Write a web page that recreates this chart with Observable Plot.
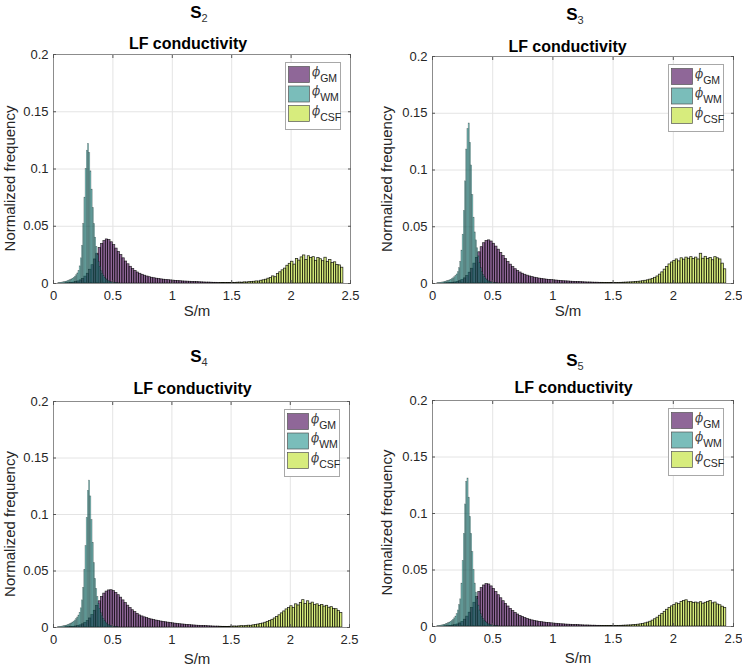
<!DOCTYPE html>
<html><head><meta charset="utf-8">
<script src="https://cdn.jsdelivr.net/npm/d3@7"></script>
<script src="https://cdn.jsdelivr.net/npm/@observablehq/plot@0.6"></script>
<style>
body{margin:0;background:#fff;}
#root{position:relative;width:742px;height:667px;overflow:hidden;background:#fff;}
</style></head><body><div id="root"></div>
<script>
// ---------- data ----------
const xTicks = [0, 0.5, 1, 1.5, 2, 2.5];
const yTicks = [0, 0.05, 0.1, 0.15, 0.2];
const subjects = ["2", "3", "4", "5"];
const tissues = ["GM", "WM", "CSF"];
const chartTitle = "LF conductivity";
const xLabel = "S/m";
const yLabel = "Normalized frequency";
const tissueColors = {GM: "#440154", WM: "#21918c", CSF: "#bddf26"};
// histogram bins: first left edge and bin width per tissue
const binStart = {WM: 0.04, GM: 0.10, CSF: 1.40};
const binWidth = {WM: 0.01, GM: 0.02, CSF: 0.02};

const S2_WM = [0.0003,0.0005,0.0006,0.0008,0.001,0.0012,0.0015,0.0018,0.0022,0.0026,0.003,0.0036,0.0042,0.005,0.006,0.0072,0.0088,0.011,0.015,0.022,0.033,0.052,0.075,0.1,0.116,0.122,0.114,0.098,0.082,0.066,0.052,0.04,0.032,0.025,0.019,0.0145,0.011,0.0085,0.0065,0.005,0.0038,0.0029,0.0022,0.0017,0.0013,0.001,0.0008,0.0006,0.0005,0.0004,0.0003];
const S2_GM = [0.0002,0.0003,0.0005,0.0008,0.0012,0.0018,0.0027,0.004,0.006,0.0085,0.012,0.016,0.021,0.026,0.031,0.0345,0.037,0.0385,0.038,0.036,0.0335,0.0305,0.0275,0.0248,0.022,0.0192,0.0168,0.0146,0.0127,0.011,0.0096,0.0085,0.0076,0.0068,0.0061,0.0055,0.005,0.0046,0.0042,0.0039,0.0036,0.0033,0.0031,0.0029,0.0027,0.0025,0.0023,0.0021,0.002,0.0018,0.0017,0.0016,0.0015,0.0014,0.0013,0.0012,0.0011,0.001,0.0009,0.0008,0.0008,0.0007,0.0006,0.0006,0.0005,0.0005,0.0004,0.0004,0.0003,0.0003];
const S2_CSF = [0.0003,0.0004,0.0003,0.0005,0.0004,0.0006,0.0005,0.0007,0.0008,0.0007,0.001,0.0009,0.0012,0.0013,0.0015,0.0018,0.0017,0.0024,0.0028,0.0033,0.0042,0.0048,0.0062,0.0055,0.0082,0.0098,0.0115,0.013,0.0155,0.0172,0.019,0.0165,0.0215,0.02,0.0228,0.0245,0.0205,0.0238,0.0222,0.023,0.0198,0.0222,0.0212,0.0195,0.0225,0.0188,0.0205,0.0178,0.0185,0.0162,0.0158,0.0138];

const S3_WM = [0.0003,0.0004,0.0005,0.0007,0.0009,0.0011,0.0014,0.0017,0.002,0.0024,0.0028,0.0033,0.0039,0.0046,0.0055,0.0066,0.008,0.01,0.0135,0.019,0.029,0.043,0.064,0.09,0.118,0.136,0.141,0.124,0.104,0.078,0.058,0.045,0.038,0.031,0.024,0.018,0.0135,0.01,0.0075,0.0056,0.0042,0.0031,0.0023,0.0017,0.0013,0.001,0.0007,0.0005,0.0004,0.0003,0.0002];
const S3_GM = [0.0002,0.0003,0.0004,0.0006,0.0009,0.0013,0.002,0.003,0.0045,0.0066,0.0095,0.013,0.0175,0.0225,0.0275,0.032,0.0355,0.0375,0.038,0.037,0.035,0.0325,0.0298,0.027,0.0243,0.0216,0.019,0.0166,0.0145,0.0126,0.011,0.0097,0.0086,0.0077,0.0069,0.0062,0.0056,0.0051,0.0047,0.0043,0.004,0.0037,0.0034,0.0032,0.003,0.0028,0.0026,0.0024,0.0022,0.002,0.0019,0.0018,0.0016,0.0015,0.0014,0.0013,0.0012,0.0011,0.001,0.0009,0.0009,0.0008,0.0007,0.0007,0.0006,0.0006,0.0005,0.0005,0.0004,0.0004];
const S3_CSF = [0.0002,0.0002,0.0003,0.0003,0.0004,0.0004,0.0005,0.0005,0.0006,0.0007,0.0008,0.0009,0.001,0.0011,0.0013,0.0015,0.0017,0.002,0.0024,0.0028,0.0034,0.0041,0.005,0.0062,0.0078,0.0098,0.0122,0.0145,0.0168,0.0185,0.0198,0.0212,0.0195,0.0222,0.021,0.0228,0.0218,0.0232,0.0215,0.0228,0.0212,0.0262,0.0218,0.0235,0.0215,0.0225,0.0205,0.0232,0.0222,0.0212,0.0175,0.0125];

const S4_WM = [0.0003,0.0004,0.0006,0.0008,0.001,0.0012,0.0015,0.0018,0.0022,0.0026,0.0031,0.0037,0.0044,0.0052,0.0062,0.0074,0.0088,0.0106,0.013,0.017,0.024,0.035,0.051,0.072,0.097,0.121,0.13,0.116,0.095,0.075,0.057,0.043,0.034,0.027,0.021,0.0165,0.0128,0.0099,0.0076,0.0058,0.0044,0.0033,0.0025,0.0019,0.0014,0.0011,0.0008,0.0006,0.0005,0.0004,0.0003];
const S4_GM = [0.0002,0.0003,0.0004,0.0006,0.0009,0.0013,0.0019,0.0028,0.004,0.0057,0.008,0.011,0.0148,0.019,0.0232,0.027,0.03,0.0318,0.0328,0.033,0.0322,0.0306,0.0286,0.0264,0.024,0.0216,0.0193,0.0172,0.0153,0.0136,0.0121,0.0107,0.0098,0.009,0.0083,0.0077,0.0071,0.0066,0.0061,0.0057,0.0053,0.0049,0.0046,0.0043,0.004,0.0037,0.0034,0.0031,0.0029,0.0027,0.0025,0.0023,0.0021,0.0019,0.0018,0.0016,0.0015,0.0014,0.0013,0.0012,0.0011,0.001,0.0009,0.0008,0.0008,0.0007,0.0006,0.0006,0.0005,0.0005];
const S4_CSF = [0.0003,0.0004,0.0004,0.0005,0.0006,0.0008,0.0009,0.0008,0.001,0.0012,0.0011,0.0014,0.0016,0.0015,0.0019,0.0022,0.0026,0.003,0.0035,0.0042,0.005,0.0058,0.0068,0.008,0.0093,0.0108,0.0125,0.0142,0.016,0.0172,0.0188,0.0172,0.0205,0.0195,0.0218,0.0242,0.0208,0.0232,0.021,0.022,0.0198,0.0205,0.019,0.02,0.0185,0.0192,0.0175,0.018,0.0165,0.0162,0.0145,0.0128];

const S5_WM = [0.0003,0.0004,0.0006,0.0008,0.001,0.0013,0.0016,0.002,0.0024,0.0029,0.0035,0.0042,0.005,0.006,0.0072,0.0088,0.011,0.0142,0.019,0.024,0.038,0.058,0.082,0.108,0.128,0.131,0.114,0.097,0.082,0.066,0.05,0.038,0.03,0.024,0.0185,0.0142,0.011,0.0085,0.0065,0.005,0.0038,0.0029,0.0022,0.0017,0.0013,0.001,0.0008,0.0006,0.0005,0.0004,0.0003];
const S5_GM = [0.0002,0.0003,0.0005,0.0008,0.0012,0.0018,0.0027,0.004,0.006,0.0087,0.0122,0.0163,0.021,0.026,0.0305,0.034,0.0363,0.0375,0.0372,0.0355,0.0332,0.0305,0.0277,0.025,0.0224,0.02,0.0177,0.0156,0.0137,0.012,0.0106,0.0094,0.0084,0.0075,0.0067,0.006,0.0054,0.0049,0.0045,0.0041,0.0038,0.0035,0.0032,0.003,0.0028,0.0026,0.0024,0.0022,0.002,0.0019,0.0017,0.0016,0.0015,0.0014,0.0013,0.0012,0.0011,0.001,0.0009,0.0009,0.0008,0.0007,0.0007,0.0006,0.0006,0.0005,0.0005,0.0004,0.0004,0.0003];
const S5_CSF = [0.0002,0.0002,0.0003,0.0003,0.0004,0.0004,0.0005,0.0005,0.0006,0.0007,0.0008,0.0009,0.001,0.0012,0.0014,0.0016,0.0019,0.0023,0.0028,0.0034,0.0042,0.0052,0.0064,0.0078,0.0095,0.0112,0.013,0.0148,0.0165,0.0178,0.019,0.0205,0.0198,0.0218,0.0225,0.0232,0.0215,0.0218,0.0208,0.0212,0.0205,0.0215,0.0202,0.021,0.0218,0.0225,0.0205,0.0212,0.0195,0.0188,0.0175,0.0165];

const seriesBySubject = {
  "2": {GM: S2_GM, WM: S2_WM, CSF: S2_CSF},
  "3": {GM: S3_GM, WM: S3_WM, CSF: S3_CSF},
  "4": {GM: S4_GM, WM: S4_WM, CSF: S4_CSF},
  "5": {GM: S5_GM, WM: S5_WM, CSF: S5_CSF}
};

// ---------- layout (positions / styles only) ----------
const layout = [
  {left: 0,   top: 0,   w: 371, h: 320, mL: 53, mR: 21, mT: 54, mB: 37, sT: [199, 18],  lf: [188, 49],   yl: [15, 178.5], xl: [197, 316]},
  {left: 371, top: 0,   w: 371, h: 320, mL: 61, mR: 9,  mT: 56, mB: 37, sT: [204, 20],  lf: [196.5, 52], yl: [21, 179],   xl: [197, 316]},
  {left: 0,   top: 320, w: 371, h: 347, mL: 53, mR: 22, mT: 81, mB: 40, sT: [199, 42],  lf: [192.5, 74], yl: [15, 204],   xl: [197, 344]},
  {left: 371, top: 320, w: 371, h: 347, mL: 61, mR: 9,  mT: 80, mB: 41, sT: [204, 46],  lf: [202.5, 73], yl: [21, 202.5], xl: [207, 343]}
];
const barEdge = {GM: {w: 0.7, o: 0.8}, WM: {w: 0.5, o: 0.4}, CSF: {w: 0.75, o: 0.85}};
const FONT = "'Liberation Sans', Arial, Helvetica, sans-serif";
const TXT = "#262626";

function blend(hex, a) {
  const c = d3.rgb(hex);
  const m = v => Math.round(a * v + (1 - a) * 255);
  return d3.rgb(m(c.r), m(c.g), m(c.b)).formatHex();
}

const root = document.getElementById("root");

subjects.forEach((sub, i) => {
  const L = layout[i];
  const series = tissues.map(t => ({
    t,
    data: seriesBySubject[sub][t].map((v, k) => ({
      x1: +(binStart[t] + k * binWidth[t]).toFixed(4),
      x2: +(binStart[t] + (k + 1) * binWidth[t]).toFixed(4),
      y: v
    }))
  }));

  const svg = Plot.plot({
    width: L.w, height: L.h,
    marginLeft: L.mL, marginRight: L.mR, marginTop: L.mT, marginBottom: L.mB,
    style: {fontFamily: FONT, fontSize: "13px", color: TXT, background: "transparent", overflow: "visible"},
    x: {domain: [0, 2.5]},
    y: {domain: [0, 0.2]},
    marks: [
      Plot.gridX(xTicks, {stroke: "#e4e4e4", strokeOpacity: 1}),
      Plot.gridY(yTicks, {stroke: "#e4e4e4", strokeOpacity: 1}),
      ...series.map(s => Plot.rectY(s.data, {
        x1: "x1", x2: "x2", y: "y",
        fill: tissueColors[s.t], fillOpacity: 0.6,
        stroke: "#000", strokeOpacity: barEdge[s.t].o, strokeWidth: barEdge[s.t].w
      })),
      Plot.frame({stroke: "#8c8c8c"}),
      Plot.axisX(xTicks, {anchor: "bottom", tickSize: 3, dy: -3, fill: "none", stroke: "#555", label: null}),
      Plot.axisX(xTicks, {anchor: "top", tickSize: 3, dy: 3, fill: "none", stroke: "#555", label: null}),
      Plot.axisY(yTicks, {anchor: "left", tickSize: 3, dx: 3, fill: "none", stroke: "#555", label: null}),
      Plot.axisY(yTicks, {anchor: "right", tickSize: 3, dx: -3, fill: "none", stroke: "#555", label: null}),
      Plot.axisX(xTicks, {anchor: "bottom", tickSize: 0, tickPadding: 7, tickFormat: d => String(d), fill: TXT, label: null}),
      Plot.axisY(yTicks, {anchor: "left", tickSize: 0, tickPadding: 5, tickFormat: d => String(d), fill: TXT, label: null})
    ]
  });
  svg.style.position = "absolute";
  svg.style.left = L.left + "px";
  svg.style.top = L.top + "px";
  root.appendChild(svg);

  const g = d3.select(svg).append("g").attr("font-family", FONT);

  // subject title S_n
  const st = g.append("text").attr("x", L.sT[0]).attr("y", L.sT[1]).attr("text-anchor", "middle").attr("fill", "#000");
  st.append("tspan").attr("font-weight", "bold").attr("font-size", 17).text("S");
  st.append("tspan").attr("font-size", 11).attr("dy", 4).attr("fill", "#333").text(sub);

  // axes title
  g.append("text").attr("x", L.lf[0]).attr("y", L.lf[1]).attr("text-anchor", "middle")
    .attr("font-weight", "bold").attr("font-size", 16).attr("fill", "#000").text(chartTitle);

  // axis labels
  g.append("text").attr("transform", `translate(${L.yl[0]},${L.yl[1]}) rotate(-90)`)
    .attr("text-anchor", "middle").attr("font-size", 15).attr("fill", TXT).text(yLabel);
  g.append("text").attr("x", L.xl[0]).attr("y", L.xl[1]).attr("text-anchor", "middle")
    .attr("font-size", 15).attr("fill", TXT).text(xLabel);

  // legend
  const frameRight = L.w - L.mR, frameTop = L.mT;
  const bx = frameRight - 65, by = frameTop + 8;
  const lg = g.append("g").attr("transform", `translate(${bx},${by})`);
  lg.append("rect").attr("x", 0.5).attr("y", 0.5).attr("width", 55).attr("height", 67)
    .attr("fill", "#fff").attr("stroke", "#a8a8a8").attr("stroke-width", 1);
  tissues.forEach((t, j) => {
    const yy = 4.5 + j * 19.5;
    lg.append("rect").attr("x", 3.5).attr("y", yy).attr("width", 21).attr("height", 16)
      .attr("fill", blend(tissueColors[t], 0.6)).attr("stroke", "#555").attr("stroke-width", 0.7);
    const tx = lg.append("text").attr("x", 27).attr("y", yy + 9).attr("text-anchor", "start").attr("fill", "#444");
    tx.append("tspan").attr("font-style", "italic").attr("font-size", 12)
      .attr("font-family", "'DejaVu Serif', serif").text("\u03D5");
    tx.append("tspan").attr("font-size", 10.5).attr("dy", 6).attr("fill", TXT).text(t);
  });
});
</script></body></html>
